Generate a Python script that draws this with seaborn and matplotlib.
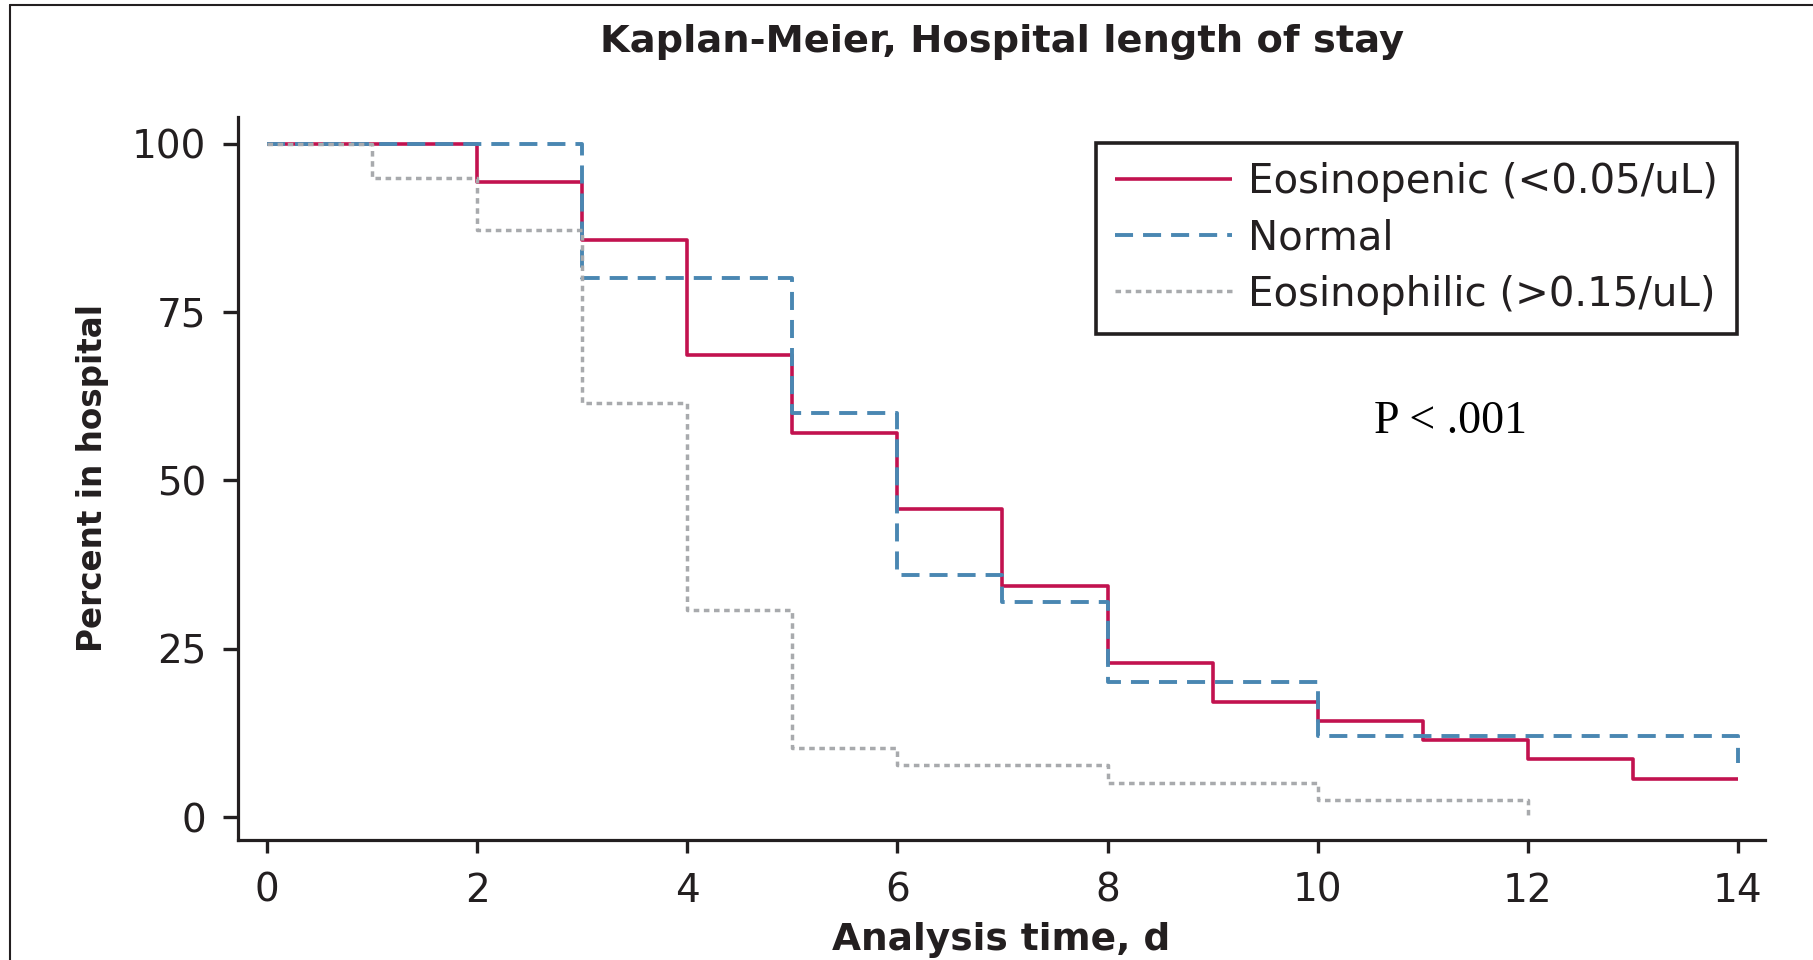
import matplotlib
matplotlib.use("Agg")
import matplotlib.pyplot as plt
from matplotlib.lines import Line2D
import pandas as pd
import seaborn as sns

# Kaplan-Meier estimates: percent of patients still in hospital by day
eosinopenic_days = [0, 2, 3, 4, 5, 6, 7, 8, 9, 10, 11, 12, 13, 14]
eosinopenic_pct = [100, 94.3, 85.7, 68.6, 57.1, 45.7, 34.3, 22.9, 17.1, 14.3, 11.4, 8.6, 5.7, 5.7]

normal_days = [0, 3, 5, 6, 7, 8, 10, 14]
normal_pct = [100, 80, 60, 36, 32, 20, 12, 8]

eosinophilic_days = [0, 1, 2, 3, 4, 5, 6, 8, 10, 12]
eosinophilic_pct = [100, 94.9, 87.2, 61.5, 30.8, 10.3, 7.7, 5.1, 2.6, 0]

group_labels = ["Eosinopenic (<0.05/uL)", "Normal", "Eosinophilic (>0.15/uL)"]
x_ticks = [0, 2, 4, 6, 8, 10, 12, 14]
y_ticks = [0, 25, 50, 75, 100]

title_text = "Kaplan-Meier, Hospital length of stay"
x_label = "Analysis time, d"
y_label = "Percent in hospital"
p_text = "P < .001"

INK = "#231f20"
styles = [
    dict(color="#C2124F", linewidth=2.6, linestyle="-"),
    dict(color="#4A87B2", linewidth=2.8, linestyle=(0, (4.64, 2.57))),
    dict(color="#A8AAAD", linewidth=2.5, linestyle=(0, (1.6, 1.32))),
]

frames = []
for label, days, pct in [
    (group_labels[0], eosinopenic_days, eosinopenic_pct),
    (group_labels[1], normal_days, normal_pct),
    (group_labels[2], eosinophilic_days, eosinophilic_pct),
]:
    frames.append(pd.DataFrame({"day": days, "pct": pct, "group": label}))
df = pd.concat(frames, ignore_index=True)

sns.set_theme(style="ticks")
plt.rcParams["font.family"] = ["DejaVu Sans"]

W, H = 1813, 960
fig = plt.figure(figsize=(W / 100, H / 100), dpi=100)
fig.patch.set_facecolor("white")

ax_left, ax_right, ax_top, ax_bottom = 238, 1765, 117, 840
ax = fig.add_axes([ax_left / W, 1 - ax_bottom / H,
                   (ax_right - ax_left) / W, (ax_bottom - ax_top) / H])
ax.set_facecolor("white")

for label, st in zip(group_labels, styles):
    sub = df[df["group"] == label]
    sns.lineplot(data=sub, x="day", y="pct", ax=ax, estimator=None,
                 errorbar=None, drawstyle="steps-post", legend=False,
                 solid_capstyle="butt", dash_capstyle="butt", **st)

ax.set_xlim(-0.276, 14.257)
ax.set_ylim(-3.41, 103.95)
ax.set_xticks(x_ticks)
ax.set_yticks(y_ticks)

sns.despine(ax=ax)
for side in ("left", "bottom"):
    ax.spines[side].set_linewidth(2.3)
    ax.spines[side].set_color(INK)

ax.tick_params(axis="both", direction="out", width=2.4, color=INK,
               labelsize=28, labelcolor=INK)
ax.tick_params(axis="y", length=11, pad=12)
ax.tick_params(axis="x", length=9.5, pad=13.3)

ax.set_xlabel(x_label, fontsize=27, fontweight="bold", color=INK)
ax.xaxis.set_label_coords(0.5, (ax_bottom - 950) / (ax_bottom - ax_top))
ax.xaxis.label.set_va("baseline")

ax.set_ylabel(y_label, fontsize=23.5, fontweight="bold", color=INK)
ax.yaxis.set_label_coords((102 - ax_left) / (ax_right - ax_left), 0.5)
ax.yaxis.label.set_va("baseline")

fig.text((ax_left + ax_right) / 2 / W, 1 - 51.7 / H, title_text,
         ha="center", va="baseline", fontsize=27.6, fontweight="bold",
         color=INK)

fig.text(1451 / W, 1 - 433 / H, p_text, ha="center", va="baseline",
         fontsize=33, family=["Liberation Serif", "DejaVu Serif"],
         color="black")

leg = ax.legend(handles=ax.lines[:3], labels=group_labels, fontsize=29,
                loc="upper right", bbox_to_anchor=(1737 / W, 1 - 143 / H),
                bbox_transform=fig.transFigure, borderaxespad=0,
                handlelength=2.9, handletextpad=0.4, borderpad=0.48,
                labelspacing=0.4, frameon=True, fancybox=False,
                framealpha=1, edgecolor=INK)
leg.get_frame().set_linewidth(2.6)
for t in leg.get_texts():
    t.set_color(INK)

# outer frame along the top and left edges
fig.add_artist(Line2D([10 / W, 1], [1 - 5 / H, 1 - 5 / H],
                      transform=fig.transFigure, color=INK, lw=1.5))
fig.add_artist(Line2D([10 / W, 10 / W], [0, 1 - 5 / H],
                      transform=fig.transFigure, color=INK, lw=1.5))

fig.savefig("out.png", dpi=100, facecolor="white")
